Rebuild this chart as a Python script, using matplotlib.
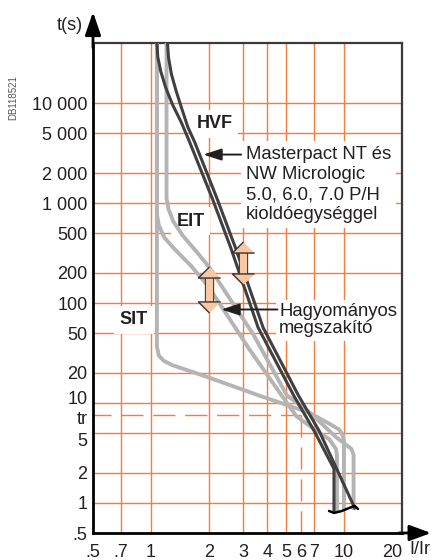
import matplotlib
matplotlib.use('Agg')
import matplotlib.pyplot as plt
import matplotlib.patheffects as pe
from matplotlib.transforms import ScaledTranslation
from matplotlib.ticker import NullLocator

plt.rcParams['font.family'] = ['Liberation Sans', 'DejaVu Sans']
plt.rcParams['lines.scale_dashes'] = False

# axes
x_ticks = [0.5, 0.7, 1, 2, 3, 4, 5, 6, 7, 10, 20]
x_labels = ['.5', '.7', '1', '2', '3', '4', '5', '6', '7', '10', '20']
tr = 7.5
tr_current = 6
y_ticks = [0.5, 1, 2, 5, tr, 10, 20, 50, 100, 200, 500, 1000, 2000, 5000, 10000]
y_labels = ['.5', '1', '2', '5', 'tr', '10', '20', '50', '100', '200', '500',
            '1 000', '2 000', '5 000', '10 000']
x_grid = [0.7, 1, 2, 3, 4, 5, 7, 10]
y_grid = [1, 2, 5, 10, 20, 50, 100, 200, 500, 1000, 2000, 5000, 10000]

# HVF (Masterpact) band - dark
hvf_a_x = [1.072, 1.072, 1.084, 1.122, 1.189, 1.289, 1.431, 1.569, 2.092, 2.592, 3.592, 5.48, 7.0, 8.88, 8.88]
hvf_a_y = [60000, 40000, 28840, 20900, 14450, 9770, 6500, 4276, 1074, 355.6, 56.6, 11.95, 5.28, 2.19, 0.831]
hvf_b_x = [1.217, 1.217, 1.231, 1.275, 1.35, 1.447, 1.551, 1.682, 2.213, 2.742, 3.813, 5.80, 7.43, 11.37]
hvf_b_y = [60000, 40000, 28840, 19500, 13180, 8670, 5768, 4090, 1074, 355.6, 56.6, 11.95, 5.28, 0.891]

# EIT band - gray
eit_1_x = [1.072, 1.072, 1.097, 1.175, 1.335, 1.606, 1.954, 2.315, 3.185, 4.677, 5.67, 7.17, 8.37, 9.09, 9.2, 9.2]
eit_1_y = [60000, 782, 598, 449, 340.8, 237.3, 151.6, 92.9, 36.0, 12.43, 7.37, 5.28, 4.36, 3.47, 3.02, 0.851]
eit_2_x = [1.203, 1.203, 1.231, 1.305, 1.464, 1.721, 2.023, 2.449, 3.382, 5.057, 6.76, 9.09, 10.94, 11.22, 11.22]
eit_2_y = [60000, 1127, 874, 654, 469, 326.6, 222.5, 126, 48.8, 11.95, 7.79, 4.56, 3.47, 3.02, 0.891]

# SIT - gray
sit_x = [1.072, 1.072, 1.097, 1.162, 1.275, 2.023, 3.592, 6.6, 8.57, 9.43, 9.88, 10, 10]
sit_y = [60000, 36.8, 29.8, 26.5, 24.1, 17.8, 11.95, 8.01, 6.07, 5.43, 4.78, 4.16, 0.891]

# bracket under the instantaneous part
bracket_x = [8.37, 8.88, 9.77, 10.66, 11.37, 11.82]
bracket_y = [0.831, 0.794, 0.831, 0.891, 0.933, 0.87]

# double arrows (adjustable delay)
band_x = [2, 3]
band_lo = [90.6, 174]
band_hi = [204, 363]

curve_names = ['HVF', 'EIT', 'SIT']
name_x = [2.14, 1.61, 0.816]
name_y = [6200, 660, 68]

grid_c = '#F27D3D'
gray = '#B4B4B4'
dark = '#404040'
ink = '#231F20'
peach = '#F9C7A2'
edge = '#333333'

head_up = [(0, 0.5), (-1, -0.5), (1, -0.5)]
head_down = [(0, -0.5), (-1, 0.5), (1, 0.5)]

fig = plt.figure(figsize=(4.33, 5.6), dpi=100)
ax = fig.add_axes([93 / 433, 27 / 560, 309 / 433, 490 / 560])
ax.set_xscale('log')
ax.set_yscale('log')
ax.set_xlim(0.5, 20)
ax.set_ylim(0.5, 40000)

for v in x_grid:
    ax.axvline(v, color=grid_c, lw=1.0, zorder=1)
for v in y_grid:
    ax.axhline(v, color=grid_c, lw=1.0, zorder=1)
ax.plot([tr_current, tr_current], [0.5, tr], color=grid_c, lw=1.0, ls=(0, (16, 7)), zorder=1)
ax.plot([0.5, tr_current], [tr, tr], color=grid_c, lw=1.0, ls=(3, (16, 7)), zorder=1)

for xs, ys in [(sit_x, sit_y), (eit_1_x, eit_1_y), (eit_2_x, eit_2_y)]:
    ax.plot(xs, ys, color=gray, lw=2.8, zorder=3, solid_joinstyle='round')
for xs, ys in [(hvf_a_x, hvf_a_y), (hvf_b_x, hvf_b_y)]:
    ax.plot(xs, ys, color=dark, lw=2.2, zorder=4, solid_joinstyle='round')
ax.plot(bracket_x, bracket_y, color='black', lw=1.8, zorder=5, solid_capstyle='round')

for x0, lo, hi in zip(band_x, band_lo, band_hi):
    ax.plot([x0, x0], [lo, hi], color=peach, lw=5.2, solid_capstyle='butt', zorder=6,
            path_effects=[pe.Stroke(linewidth=6.7, foreground=edge), pe.Normal()])
    ax.plot([x0], [hi], marker=head_up, ms=16, mfc=peach, mec=edge, mew=1.0, ls='none', zorder=7)
    ax.plot([x0], [lo], marker=head_down, ms=16, mfc=peach, mec=edge, mew=1.0, ls='none', zorder=7)

for name, x, y in zip(curve_names, name_x, name_y):
    ax.text(x, y, name, fontsize=13, fontweight='bold', color=ink, ha='center', va='center',
            bbox=dict(boxstyle='square,pad=0.3', fc='white', ec='none'), zorder=2.5)

ax.text(3.11, 1538, 'Masterpact NT és\nNW Micrologic\n5.0, 6.0, 7.0 P/H\nkioldóegységgel',
        fontsize=13.3, color=ink, ha='left', va='center', linespacing=1.25,
        bbox=dict(boxstyle='square,pad=0.25', fc='white', ec='none'), zorder=2.5)
ax.annotate('', xy=(1.866, 3060), xytext=(2.934, 3060),
            arrowprops=dict(arrowstyle='-|>,head_length=1.1,head_width=0.36', mutation_scale=10,
                            lw=1.4, color=ink, shrinkA=0, shrinkB=0), zorder=6)

ax.text(4.62, 67.3, 'Hagyományos\nmegszakító', fontsize=13.3, color=ink, ha='left', va='center',
        linespacing=1.0, bbox=dict(boxstyle='square,pad=0.2', fc='white', ec='none'), zorder=2.5)
ax.annotate('', xy=(2.315, 86.2), xytext=(4.52, 86.2),
            arrowprops=dict(arrowstyle='-|>,head_length=1.1,head_width=0.36', mutation_scale=10,
                            lw=1.4, color=ink, shrinkA=0, shrinkB=0), zorder=6)

# ticks
ax.set_xticks(x_ticks)
ax.set_xticklabels(x_labels)
ax.set_yticks(y_ticks)
ax.set_yticklabels(y_labels)
ax.xaxis.set_minor_locator(NullLocator())
ax.yaxis.set_minor_locator(NullLocator())
ax.tick_params(length=0, labelsize=13, labelcolor=ink)
ax.tick_params(axis='y', pad=4)
ax.tick_params(axis='x', pad=8)
shift = {'10': 0.05, 'tr': -0.02, '5': -0.06}
for lab in ax.get_yticklabels():
    if lab.get_text() in shift:
        lab.set_transform(lab.get_transform() +
                          ScaledTranslation(0, shift[lab.get_text()], fig.dpi_scale_trans))
for lab in ax.get_xticklabels():
    if lab.get_text() == '20':
        lab.set_ha('right')

for s in ['left', 'bottom']:
    ax.spines[s].set_linewidth(2.0)
    ax.spines[s].set_color('black')
for s in ['top', 'right']:
    ax.spines[s].set_linewidth(1.6)
    ax.spines[s].set_color('#3A3A3A')

# axis arrows
ax.annotate('', xy=(0, 1 + 31 / 490), xytext=(0, 0.99), xycoords='axes fraction',
            arrowprops=dict(arrowstyle='-|>,head_length=0.7,head_width=0.24', mutation_scale=20,
                            lw=2, color='black', shrinkA=0, shrinkB=0), annotation_clip=False)
ax.annotate('', xy=(1 + 29 / 309, 0), xytext=(0.99, 0), xycoords='axes fraction',
            arrowprops=dict(arrowstyle='-|>,head_length=0.65,head_width=0.24', mutation_scale=20,
                            lw=2, color='black', shrinkA=0, shrinkB=0), annotation_clip=False)

fig.text(70 / 433, 1 - 26 / 560, 't(s)', fontsize=13, color=ink, ha='center', va='center')
fig.text(420 / 433, 1 - 550 / 560, 'I/Ir', fontsize=13, color=ink, ha='center', va='center')
fig.text(13 / 433, 1 - 98 / 560, 'DB118521', fontsize=7, color='#555555', rotation=90,
         ha='center', va='center')

fig.savefig('out.png', dpi=100)
